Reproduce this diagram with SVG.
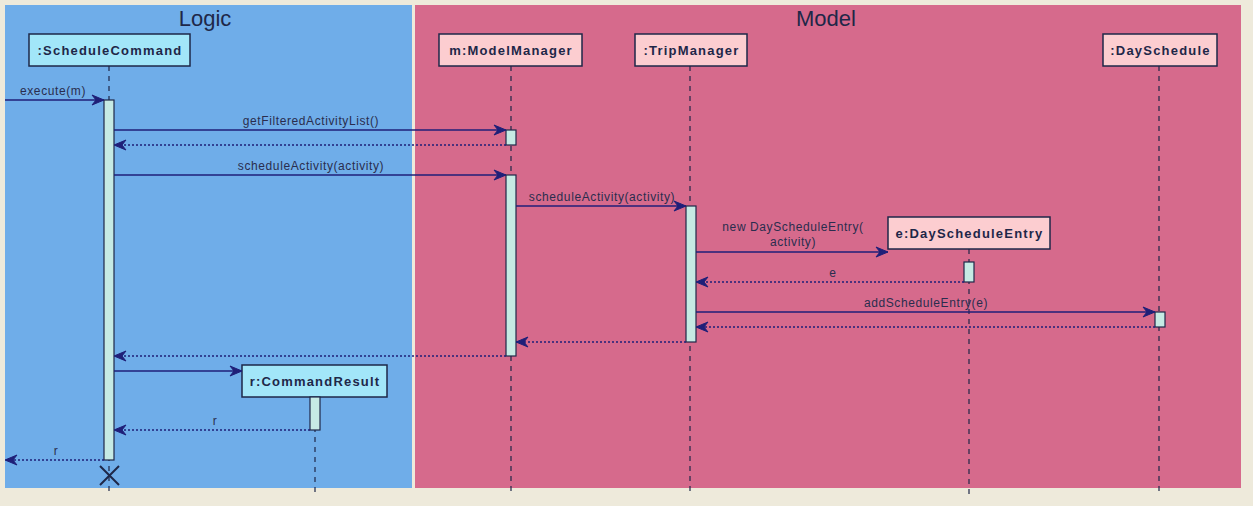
<svg xmlns="http://www.w3.org/2000/svg" width="1253" height="506" viewBox="0 0 1253 506">
  <style>
    .title { font-family: "Liberation Sans", Arial, sans-serif; font-size: 22px; fill: #1E2748; text-anchor: middle; }
    .pname { font-family: "Liberation Sans", Arial, sans-serif; font-size: 13px; font-weight: bold; letter-spacing: 1.2px; fill: #1E2748; text-anchor: middle; }
    .msg { font-family: "Liberation Sans", Arial, sans-serif; font-size: 12px; letter-spacing: 0.6px; fill: #2A2D4E; text-anchor: middle; }
    .logicBox { fill: #A2E6F9; stroke: #1E2748; stroke-width: 1.5; }
    .modelBox { fill: #FCCDD0; stroke: #1E2748; stroke-width: 1.5; }
    .life { stroke: #1E2748; stroke-width: 1.2; stroke-dasharray: 5,5; fill: none; }
    .act { fill: #C6EAE4; stroke: #1E2748; stroke-width: 1.2; }
    .call { stroke: #1F1F78; stroke-width: 1.5; fill: none; marker-end: url(#arrow); }
    .ret { stroke: #1F1F78; stroke-width: 1.5; stroke-dasharray: 2,2; fill: none; marker-end: url(#arrow); }
  </style>
  <defs>
    <marker id="arrow" markerUnits="userSpaceOnUse" markerWidth="14" markerHeight="12" viewBox="0 0 14 12" refX="13" refY="6" orient="auto">
      <polygon points="13,6 1,1 5,6 1,11" fill="#1F1F78" stroke="#1F1F78" stroke-width="1"/>
    </marker>
  </defs>

  <!-- page background -->
  <rect x="0" y="0" width="1253" height="506" fill="#EEEADB"/>

  <!-- boxes grouping the participants -->
  <g id="box-logic">
    <rect x="5" y="5" width="407" height="483" fill="#6FADE9"/>
    <text class="title" x="205" y="26">Logic</text>
  </g>
  <g id="box-model">
    <rect x="415" y="5" width="826" height="483" fill="#D66A8C"/>
    <text class="title" x="826" y="26">Model</text>
  </g>

  <!-- lifelines -->
  <g id="lifelines">
    <line class="life" x1="109" y1="66" x2="109" y2="494"/>
    <line class="life" x1="511" y1="66" x2="511" y2="494"/>
    <line class="life" x1="690" y1="66" x2="690" y2="494"/>
    <line class="life" x1="1159" y1="66" x2="1159" y2="494"/>
    <line class="life" x1="969" y1="249" x2="969" y2="494"/>
    <line class="life" x1="315" y1="397" x2="315" y2="494"/>
  </g>

  <!-- participants -->
  <g id="scheduleCommand">
    <rect class="logicBox" x="29" y="34" width="161" height="32"/>
    <text class="pname" x="110" y="55">:ScheduleCommand</text>
    <rect class="act" x="104" y="100" width="10" height="360"/>
  </g>
  <g id="modelManager">
    <rect class="modelBox" x="439" y="34" width="143" height="32"/>
    <text class="pname" x="511" y="55">m:ModelManager</text>
    <rect class="act" x="506" y="130" width="10" height="15"/>
    <rect class="act" x="506" y="175" width="10" height="181"/>
  </g>
  <g id="tripManager">
    <rect class="modelBox" x="635" y="34" width="112" height="32"/>
    <text class="pname" x="691.5" y="55">:TripManager</text>
    <rect class="act" x="686" y="206" width="10" height="136"/>
  </g>
  <g id="daySchedule">
    <rect class="modelBox" x="1103" y="34" width="114" height="32"/>
    <text class="pname" x="1160.5" y="55">:DaySchedule</text>
    <rect class="act" x="1155" y="312" width="10" height="15"/>
  </g>
  <g id="dayScheduleEntry">
    <rect class="modelBox" x="888" y="217" width="162" height="32"/>
    <text class="pname" x="969.5" y="238">e:DayScheduleEntry</text>
    <rect class="act" x="964" y="262" width="10" height="20"/>
  </g>
  <g id="commandResult">
    <rect class="logicBox" x="242" y="365" width="145" height="32"/>
    <text class="pname" x="315" y="386">r:CommandResult</text>
    <rect class="act" x="310" y="397" width="10" height="33"/>
  </g>

  <!-- messages -->
  <g id="connectors">
    <line class="call" x1="5" y1="100" x2="104" y2="100"/>
    <text class="msg" x="53" y="95">execute(m)</text>

    <line class="call" x1="114" y1="130" x2="506" y2="130"/>
    <text class="msg" x="311" y="125">getFilteredActivityList()</text>
    <line class="ret" x1="506" y1="145" x2="114" y2="145"/>

    <line class="call" x1="114" y1="175" x2="506" y2="175"/>
    <text class="msg" x="311" y="170">scheduleActivity(activity)</text>

    <line class="call" x1="516" y1="206" x2="686" y2="206"/>
    <text class="msg" x="602" y="201">scheduleActivity(activity)</text>

    <line class="call" x1="696" y1="252" x2="888" y2="252"/>
    <text class="msg" x="793" y="231">new DayScheduleEntry(</text>
    <text class="msg" x="793" y="246">activity)</text>

    <line class="ret" x1="964" y1="282" x2="696" y2="282"/>
    <text class="msg" x="833" y="277">e</text>

    <line class="call" x1="696" y1="312" x2="1155" y2="312"/>
    <text class="msg" x="926" y="307">addScheduleEntry(e)</text>
    <line class="ret" x1="1155" y1="327" x2="696" y2="327"/>

    <line class="ret" x1="686" y1="342" x2="516" y2="342"/>
    <line class="ret" x1="506" y1="356" x2="114" y2="356"/>

    <line class="call" x1="114" y1="371" x2="242" y2="371"/>

    <line class="ret" x1="310" y1="430" x2="114" y2="430"/>
    <text class="msg" x="215" y="425">r</text>

    <line class="ret" x1="104" y1="460" x2="5" y2="460"/>
    <text class="msg" x="56" y="455">r</text>

    <!-- destruction of :ScheduleCommand -->
    <path d="M100,466 L119,485 M119,466 L100,485" stroke="#1E2748" stroke-width="2" fill="none"/>
  </g>
</svg>
